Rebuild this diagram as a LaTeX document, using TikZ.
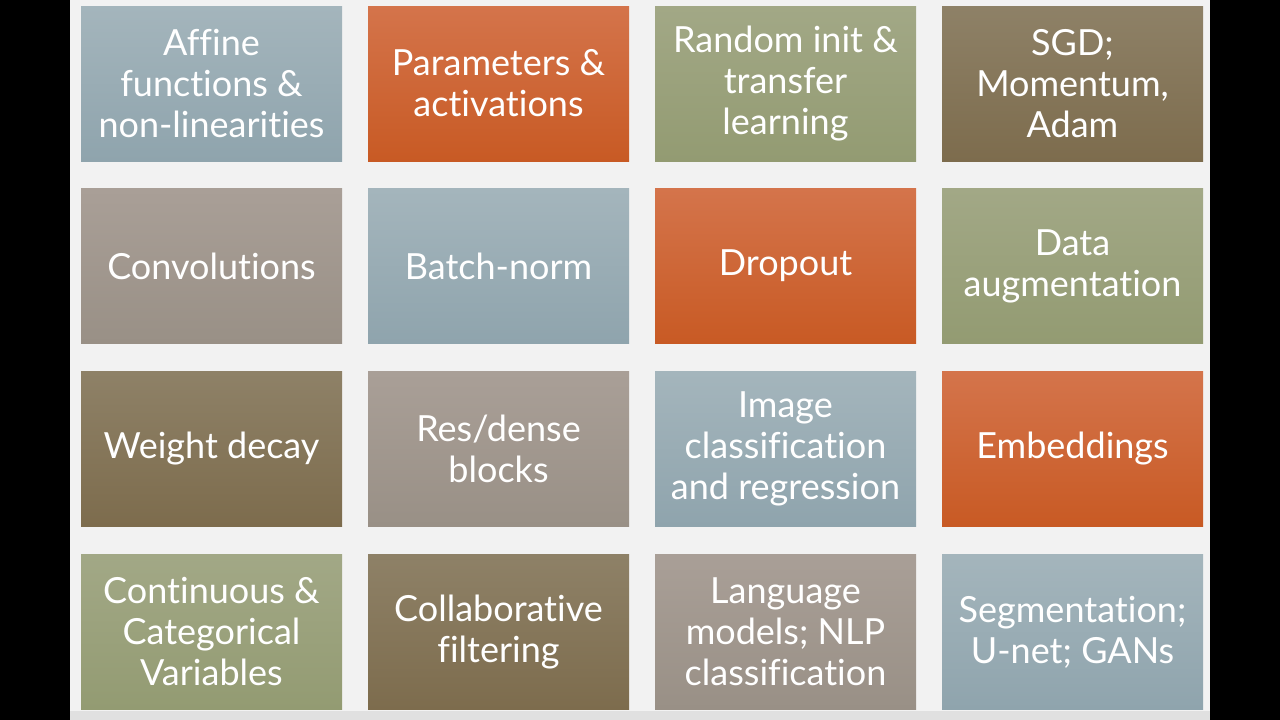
\documentclass[tikz,border=0pt]{standalone}
\usepackage{fontspec}
\setmainfont[Ligatures=NoCommon]{Lato}
\usepackage{tikz}
\usetikzlibrary{positioning}
\tikzset{
  tile/.style = {align=center, rectangle, draw=none, text=white,
  minimum width=261pt, minimum height=155pt, inner sep=0pt,
  font=\fontsize{36}{41}\selectfont},
  sky/.style = {tile, top color=sky_top, bottom color=sky_bot},
  rust/.style = {tile, top color=rust_top, bottom color=rust_bot},
  olive/.style = {tile, top color=olive_top, bottom color=olive_bot},
  umber/.style = {tile, top color=umber_top, bottom color=umber_bot},
  taupe/.style = {tile, top color=taupe_top, bottom color=taupe_bot}
}
\definecolor{sky_top}{RGB}{164, 181, 188}
\definecolor{sky_bot}{RGB}{143, 164, 173}
\definecolor{rust_top}{RGB}{212, 116, 75}
\definecolor{rust_bot}{RGB}{200, 90, 36}
\definecolor{olive_top}{RGB}{162, 168, 134}
\definecolor{olive_bot}{RGB}{147, 155, 114}
\definecolor{umber_top}{RGB}{142, 129, 103}
\definecolor{umber_bot}{RGB}{125, 108, 77}
\definecolor{taupe_top}{RGB}{169, 159, 151}
\definecolor{taupe_bot}{RGB}{153, 144, 134}
\definecolor{page}{RGB}{242, 242, 242}
\definecolor{strip}{RGB}{224, 224, 224}

\begin{document}
\begin{tikzpicture}[x=1pt, y=-1pt]
    % slide and black side bars
    \fill[black] (0,0) rectangle (1280,720);
    \fill[page] (70,0) rectangle (1210,720);
    \fill[strip] (70,711) rectangle (1210,720);
    \useasboundingbox (0,0) rectangle (1280,720);
    % row 1
    \node (affine) [sky] at (211.5,83.5) {Affine\\functions \&\\non-linearities};
    \node (params) [rust] at (498.5,83.5) {Parameters \&\\activations};
    \node (init) [olive] at (785.5,83.5) {Random init \&\\transfer\\learning};
    \node (sgd) [umber] at (1072.5,83.5) {SGD;\\Momentum,\\Adam};
    % row 2
    \node (conv) [taupe] at (211.5,266) {Convolutions};
    \node (bnorm) [sky] at (498.5,266) {Batch-norm};
    \node (drop) [rust] at (785.5,266) {Dropout};
    \node (augm) [olive] at (1072.5,266) {Data\\augmentation};
    % row 3
    \node (decay) [umber] at (211.5,449) {Weight decay};
    \node (resblk) [taupe] at (498.5,449) {Res/dense\\blocks};
    \node (imgcls) [sky] at (785.5,449) {Image\\classification\\and regression};
    \node (embed) [rust] at (1072.5,449) {Embeddings};
    % row 4
    \node (contcat) [olive] at (211.5,632) {Continuous \&\\Categorical\\Variables};
    \node (collab) [umber] at (498.5,632) {Collaborative\\filtering};
    \node (langm) [taupe] at (785.5,632) {Language\\models; NLP\\classification};
    \node (segm) [sky] at (1072.5,632) {Segmentation;\\U-net; GANs};
\end{tikzpicture}
\end{document}
